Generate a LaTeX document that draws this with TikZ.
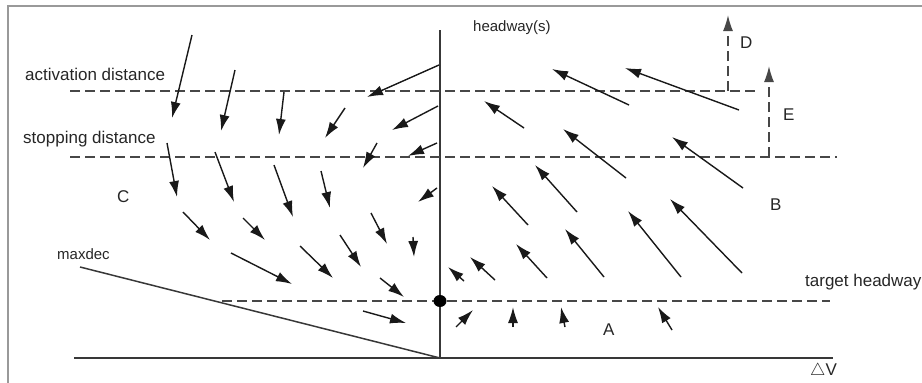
\documentclass[tikz,border=0pt]{standalone}
\usepackage{fontspec}
\setmainfont{Liberation Sans}
\usetikzlibrary{arrows.meta,shapes.geometric}

\begin{document}
\begin{tikzpicture}[x=1pt,y=-1pt,
  vec/.style={-{Latex[length=16pt,width=10pt]}, line width=1.4pt, draw=black!90, fill=black!90},
  lim/.style={dash pattern=on 10pt off 5pt, line width=1.6pt, draw=black!72},
  axis/.style={line width=1.7pt, draw=black!78},
  lbl/.style={inner sep=0pt, anchor=base west, text=black!85, font=\fontsize{17}{19}\selectfont},
  sml/.style={inner sep=0pt, anchor=base west, text=black!85, font=\fontsize{15}{17}\selectfont}]
\useasboundingbox (0,0) rectangle (922,383);
\draw[line width=2pt, black!40] (8,6) rectangle (935,395);

% axes and limits
\coordinate (O) at (440,358);
\coordinate (Ytop) at (440,30);
\coordinate (Xl) at (74,358);
\coordinate (Xr) at (833,358);
\coordinate (M) at (80,267);
\draw[axis] (Xl) -- (Xr);
\draw[axis] (O) -- (Ytop);
\draw[axis, line width=1.5pt] (M) -- (O);

\coordinate (act1) at (70,91);
\coordinate (act2) at (755,91);
\coordinate (stp1) at (70,157);
\coordinate (stp2) at (837,157);
\coordinate (tgt1) at (222,301);
\coordinate (tgt2) at (830,301);
\draw[lim] (act1) -- (act2);
\draw[lim] (stp1) -- (stp2);
\draw[lim] (tgt1) -- (tgt2);
\node[ellipse, fill=black, inner sep=0pt, minimum width=13pt, minimum height=12pt] (eq) at (440,301) {};

% D and E
\coordinate (D0) at (728,91);
\coordinate (D1) at (728,15);
\coordinate (E0) at (769,157);
\coordinate (E1) at (769,66);
\draw[lim, -{Latex[length=16pt,width=10pt]}] (D0) -- (D1);
\draw[lim, -{Latex[length=16pt,width=10pt]}] (E0) -- (E1);

% field, left half
\draw[vec] (192,35) -- (172,118);
\draw[vec] (235,70) -- (221,131);
\draw[vec] (284,92) -- (279,135);
\draw[vec] (345,108) -- (325,138);
\draw[vec] (439,65) -- (367,97);
\draw[vec] (438,106) -- (392,130);
\draw[vec] (437,143) -- (408,156);
\draw[vec] (377,143) -- (363,168);
\draw[vec] (437,188) -- (418,202);
\draw[vec] (167,143) -- (177,197);
\draw[vec] (215,152) -- (234,202);
\draw[vec] (274,165) -- (293,217);
\draw[vec] (321,171) -- (330,208);
\draw[vec] (183,212) -- (210,240);
\draw[vec] (243,218) -- (265,240);
\draw[vec] (371,213) -- (387,244);
\draw[vec] (413,237) -- (414,257);
\draw[vec] (231,253) -- (292,284);
\draw[vec] (300,246) -- (333,278);
\draw[vec] (340,235) -- (361,267);
\draw[vec] (380,278) -- (404,297);
\draw[vec] (363,311) -- (406,323);

% field, right half
\draw[vec] (629,105) -- (552,69);
\draw[vec] (739,110) -- (625,68);
\draw[vec] (524,128) -- (484,101);
\draw[vec] (626,178) -- (563,129);
\draw[vec] (743,188) -- (672,137);
\draw[vec] (577,212) -- (535,165);
\draw[vec] (528,225) -- (492,186);
\draw[vec] (547,278) -- (516,244);
\draw[vec] (604,277) -- (565,229);
\draw[vec] (681,277) -- (628,211);
\draw[vec] (742,273) -- (670,199);
\draw[vec] (495,280) -- (470,257);
\draw[vec] (464,281) -- (448,267);
\draw[vec] (456,327) -- (473,310);
\draw[vec] (513,327) -- (513,307);
\draw[vec] (565,327) -- (561,307);
\draw[vec] (672,330) -- (658,307);

% labels
\node[lbl] (act) at (25,80) {activation distance};
\node[lbl] (stp) at (23,143) {stopping distance};
\node[lbl] (C) at (117,202) {C};
\node[sml] (maxdec) at (57,259) {maxdec};
\node[sml] (hw) at (473,31) {headway(s)};
\node[lbl] (D) at (740,48) {D};
\node[lbl] (E) at (783,120) {E};
\node[lbl] (B) at (770,210) {B};
\node[lbl] (tgt) at (805,286) {target headway};
\node[lbl] (A) at (603,335) {A};
\node[lbl] (dv) at (810,375) {$\triangle$V};
\end{tikzpicture}
\end{document}
